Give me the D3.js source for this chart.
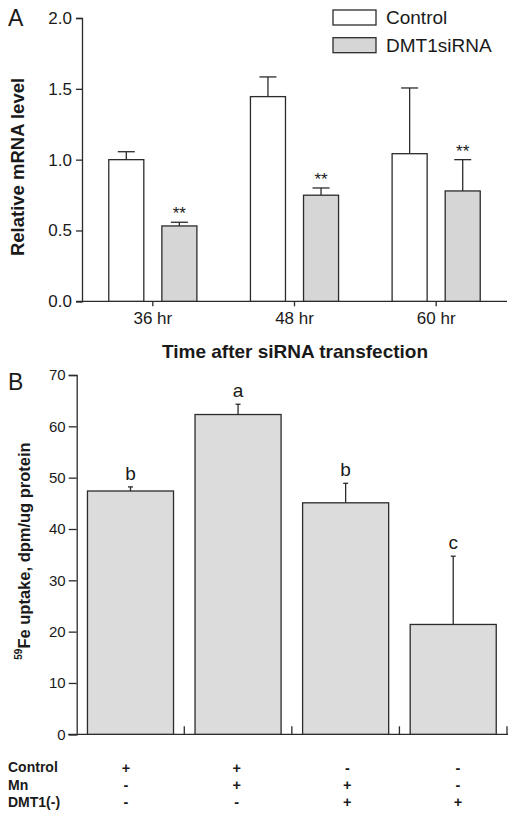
<!DOCTYPE html>
<html>
<head>
<meta charset="utf-8">
<script src="https://cdn.jsdelivr.net/npm/d3@7"></script>
<style>
  html, body { margin: 0; padding: 0; background: #fff; }
  svg { display: block; font-family: "Liberation Sans", Arial, Helvetica, sans-serif; }
</style>
</head>
<body>
<svg id="chart" width="517" height="821"></svg>
<script>
// ---------- Panel A data ----------
const timeGroups = ["36 hr", "48 hr", "60 hr"];
const seriesNames = ["Control", "DMT1siRNA"];
const controlMean = [1.00, 1.445, 1.042];
const controlErr = [0.056, 0.139, 0.464];
const sirnaMean = [0.532, 0.749, 0.779];
const sirnaErr = [0.026, 0.051, 0.221];
const sigMarks = ["**", "**", "**"];
const yTicksA = [0, 0.5, 1.0, 1.5, 2.0];

// ---------- Panel B data ----------
const conditions = ["Control", "Mn", "DMT1(-)", "Mn+DMT1(-)"];
const uptakeMean = [47.4, 62.3, 45.1, 21.4];
const uptakeErr = [0.8, 2.0, 3.8, 13.3];
const groupLetters = ["b", "a", "b", "c"];
const yTicksB = [0, 10, 20, 30, 40, 50, 60, 70];
const rowLabels = ["Control", "Mn", "DMT1(-)"];
const rowControl = ["+", "+", "-", "-"];
const rowMn = ["-", "+", "+", "-"];
const rowDMT1 = ["-", "-", "+", "+"];

const svg = d3.select("#chart");
const ink = "#2b2b2b";
const txt = "#1a1a1a";

// ================= PANEL A =================
const A = { left: 82, right: 507, top: 18, bottom: 301.3 };
const yA = d3.scaleLinear().domain([0, 2]).range([A.bottom, A.top]);
const xA = d3.scaleBand().domain(timeGroups).range([A.left, A.right])
  .paddingInner(0.378).paddingOuter(0.189);
const xSub = d3.scaleBand().domain(seriesNames).range([0, xA.bandwidth()]).paddingInner(0.34);
const fills = { "Control": "#ffffff", "DMT1siRNA": "#d6d6d6" };

const gA = svg.append("g");

// y axis
const yAxisA = d3.axisLeft(yA).tickValues(yTicksA).tickFormat(d3.format(".1f")).tickSize(6).tickPadding(4);
const gyA = gA.append("g").attr("transform", `translate(${A.left},0)`).call(yAxisA);
gyA.select(".domain").attr("stroke", ink).attr("stroke-width", 1.3);
gyA.selectAll(".tick line").attr("stroke", ink).attr("stroke-width", 1.3);
gyA.selectAll(".tick text").attr("font-size", 17).attr("fill", txt).attr("font-family", "Liberation Sans, Arial, sans-serif");

// x axis
const xAxisA = d3.axisBottom(xA).tickSize(5).tickSizeOuter(0).tickPadding(6);
const gxA = gA.append("g").attr("transform", `translate(0,${A.bottom})`).call(xAxisA);
gxA.select(".domain").remove();
gxA.append("line").attr("x1", A.left - 6).attr("x2", A.right).attr("y1", 0).attr("y2", 0)
  .attr("stroke", ink).attr("stroke-width", 1.3);
gxA.selectAll(".tick line").attr("stroke", ink).attr("stroke-width", 1.3);
gxA.selectAll(".tick text").attr("font-size", 17).attr("fill", txt).attr("font-family", "Liberation Sans, Arial, sans-serif");

// bars
const rowsA = timeGroups.map((g, i) => [
  { g, s: "Control", v: controlMean[i], e: controlErr[i], mark: null },
  { g, s: "DMT1siRNA", v: sirnaMean[i], e: sirnaErr[i], mark: sigMarks[i] }
]).flat();

const barsA = gA.append("g");
rowsA.forEach(d => {
  const x0 = xA(d.g) + xSub(d.s);
  const w = xSub.bandwidth();
  const cx = x0 + w / 2;
  barsA.append("line").attr("x1", cx).attr("x2", cx).attr("y1", yA(d.v)).attr("y2", yA(d.v + d.e))
    .attr("stroke", ink).attr("stroke-width", 1.3);
  barsA.append("line").attr("x1", cx - 8.5).attr("x2", cx + 8.5).attr("y1", yA(d.v + d.e)).attr("y2", yA(d.v + d.e))
    .attr("stroke", ink).attr("stroke-width", 1.3);
  barsA.append("rect").attr("x", x0).attr("y", yA(d.v)).attr("width", w).attr("height", yA(0) - yA(d.v))
    .attr("fill", fills[d.s]).attr("stroke", ink).attr("stroke-width", 1.3);
  if (d.mark) {
    barsA.append("text").attr("x", cx).attr("y", yA(d.v + d.e) - 3).attr("text-anchor", "middle")
      .attr("font-size", 17).attr("fill", txt).text(d.mark);
  }
});

// legend
const legA = gA.append("g");
seriesNames.forEach((s, i) => {
  const ly = 10 + i * 27.7;
  legA.append("rect").attr("x", 333).attr("y", ly).attr("width", 43).attr("height", 15)
    .attr("fill", fills[s]).attr("stroke", ink).attr("stroke-width", 1.3);
  legA.append("text").attr("x", 386).attr("y", ly + 7.5).attr("dy", "0.36em")
    .attr("font-size", 19).attr("fill", txt).text(s);
});

// labels
gA.append("text").attr("x", 8).attr("y", 26).attr("font-size", 23).attr("fill", txt).text("A");
gA.append("text").attr("transform", `translate(24,167) rotate(-90)`).attr("text-anchor", "middle")
  .attr("font-size", 18.5).attr("font-weight", "bold").attr("fill", txt).text("Relative mRNA level");
gA.append("text").attr("x", 295).attr("y", 358).attr("text-anchor", "middle")
  .attr("font-size", 19).attr("font-weight", "bold").attr("fill", txt).text("Time after siRNA transfection");

// ================= PANEL B =================
const B = { left: 76.7, right: 507, top: 375, bottom: 734.3 };
const yB = d3.scaleLinear().domain([0, 70]).range([B.bottom, B.top]);
const xB = d3.scaleBand().domain(conditions).range([B.left, B.right]).paddingInner(0.2).paddingOuter(0.1);
// columns of the +/- table (slightly wider spread than the bars)
const xSign = d3.scalePoint().domain(conditions).range([126, 458]);

const gB = svg.append("g");

const yAxisB = d3.axisLeft(yB).tickValues(yTicksB).tickFormat(d3.format("d")).tickSize(8).tickPadding(3);
const gyB = gB.append("g").attr("transform", `translate(${B.left},0)`).call(yAxisB);
gyB.select(".domain").attr("stroke", ink).attr("stroke-width", 1.3);
gyB.selectAll(".tick line").attr("stroke", ink).attr("stroke-width", 1.3);
gyB.selectAll(".tick text").attr("font-size", 15).attr("fill", txt).attr("font-family", "Liberation Sans, Arial, sans-serif");

// x axis line + inner ticks at band boundaries
const gxB = gB.append("g").attr("transform", `translate(0,${B.bottom})`);
gxB.append("line").attr("x1", B.left - 8.5).attr("x2", B.right + 1).attr("y1", 0).attr("y2", 0)
  .attr("stroke", ink).attr("stroke-width", 1.3);
conditions.forEach(c => {
  const bx = xB(c) + xB.bandwidth() + xB.step() * xB.paddingOuter();
  gxB.append("line").attr("x1", bx).attr("x2", bx).attr("y1", 0).attr("y2", -8)
    .attr("stroke", ink).attr("stroke-width", 1.3);
});

// bars
conditions.forEach((c, i) => {
  const x0 = xB(c), w = xB.bandwidth(), cx = x0 + w / 2;
  const v = uptakeMean[i], e = uptakeErr[i];
  gB.append("line").attr("x1", cx).attr("x2", cx).attr("y1", yB(v)).attr("y2", yB(v + e))
    .attr("stroke", ink).attr("stroke-width", 1.3);
  gB.append("line").attr("x1", cx - 2.5).attr("x2", cx + 2.5).attr("y1", yB(v + e)).attr("y2", yB(v + e))
    .attr("stroke", ink).attr("stroke-width", 1.3);
  gB.append("rect").attr("x", x0).attr("y", yB(v)).attr("width", w).attr("height", yB(0) - yB(v))
    .attr("fill", "#dcdcdc").attr("stroke", ink).attr("stroke-width", 1.3);
  gB.append("text").attr("x", cx).attr("y", yB(v + e) - 7).attr("text-anchor", "middle")
    .attr("font-size", 19).attr("fill", txt).text(groupLetters[i]);
});

// panel label and y title
gB.append("text").attr("x", 8).attr("y", 390).attr("font-size", 23).attr("fill", txt).text("B");
const yt = gB.append("text").attr("transform", `translate(27,551) rotate(-90)`).attr("text-anchor", "middle")
  .attr("font-size", 16.5).attr("font-weight", "bold").attr("fill", txt);
yt.append("tspan").attr("font-size", 10).attr("dy", "-0.5em").text("59");
yt.append("tspan").attr("dy", "0.5em").text("Fe uptake, dpm/ug protein");

// table of conditions
const rowY = [767.3, 785, 801.7];
const rowSigns = [rowControl, rowMn, rowDMT1];
rowLabels.forEach((lab, r) => {
  gB.append("text").attr("x", 8).attr("y", rowY[r]).attr("dy", "0.36em")
    .attr("font-size", 14).attr("font-weight", "bold").attr("fill", txt).text(lab);
  rowSigns[r].forEach((s, i) => {
    gB.append("text").attr("x", xSign(conditions[i])).attr("y", rowY[r]).attr("dy", "0.36em").attr("text-anchor", "middle")
      .attr("font-size", 14.5).attr("font-weight", "bold").attr("fill", txt).text(s);
  });
});
</script>
</body>
</html>
